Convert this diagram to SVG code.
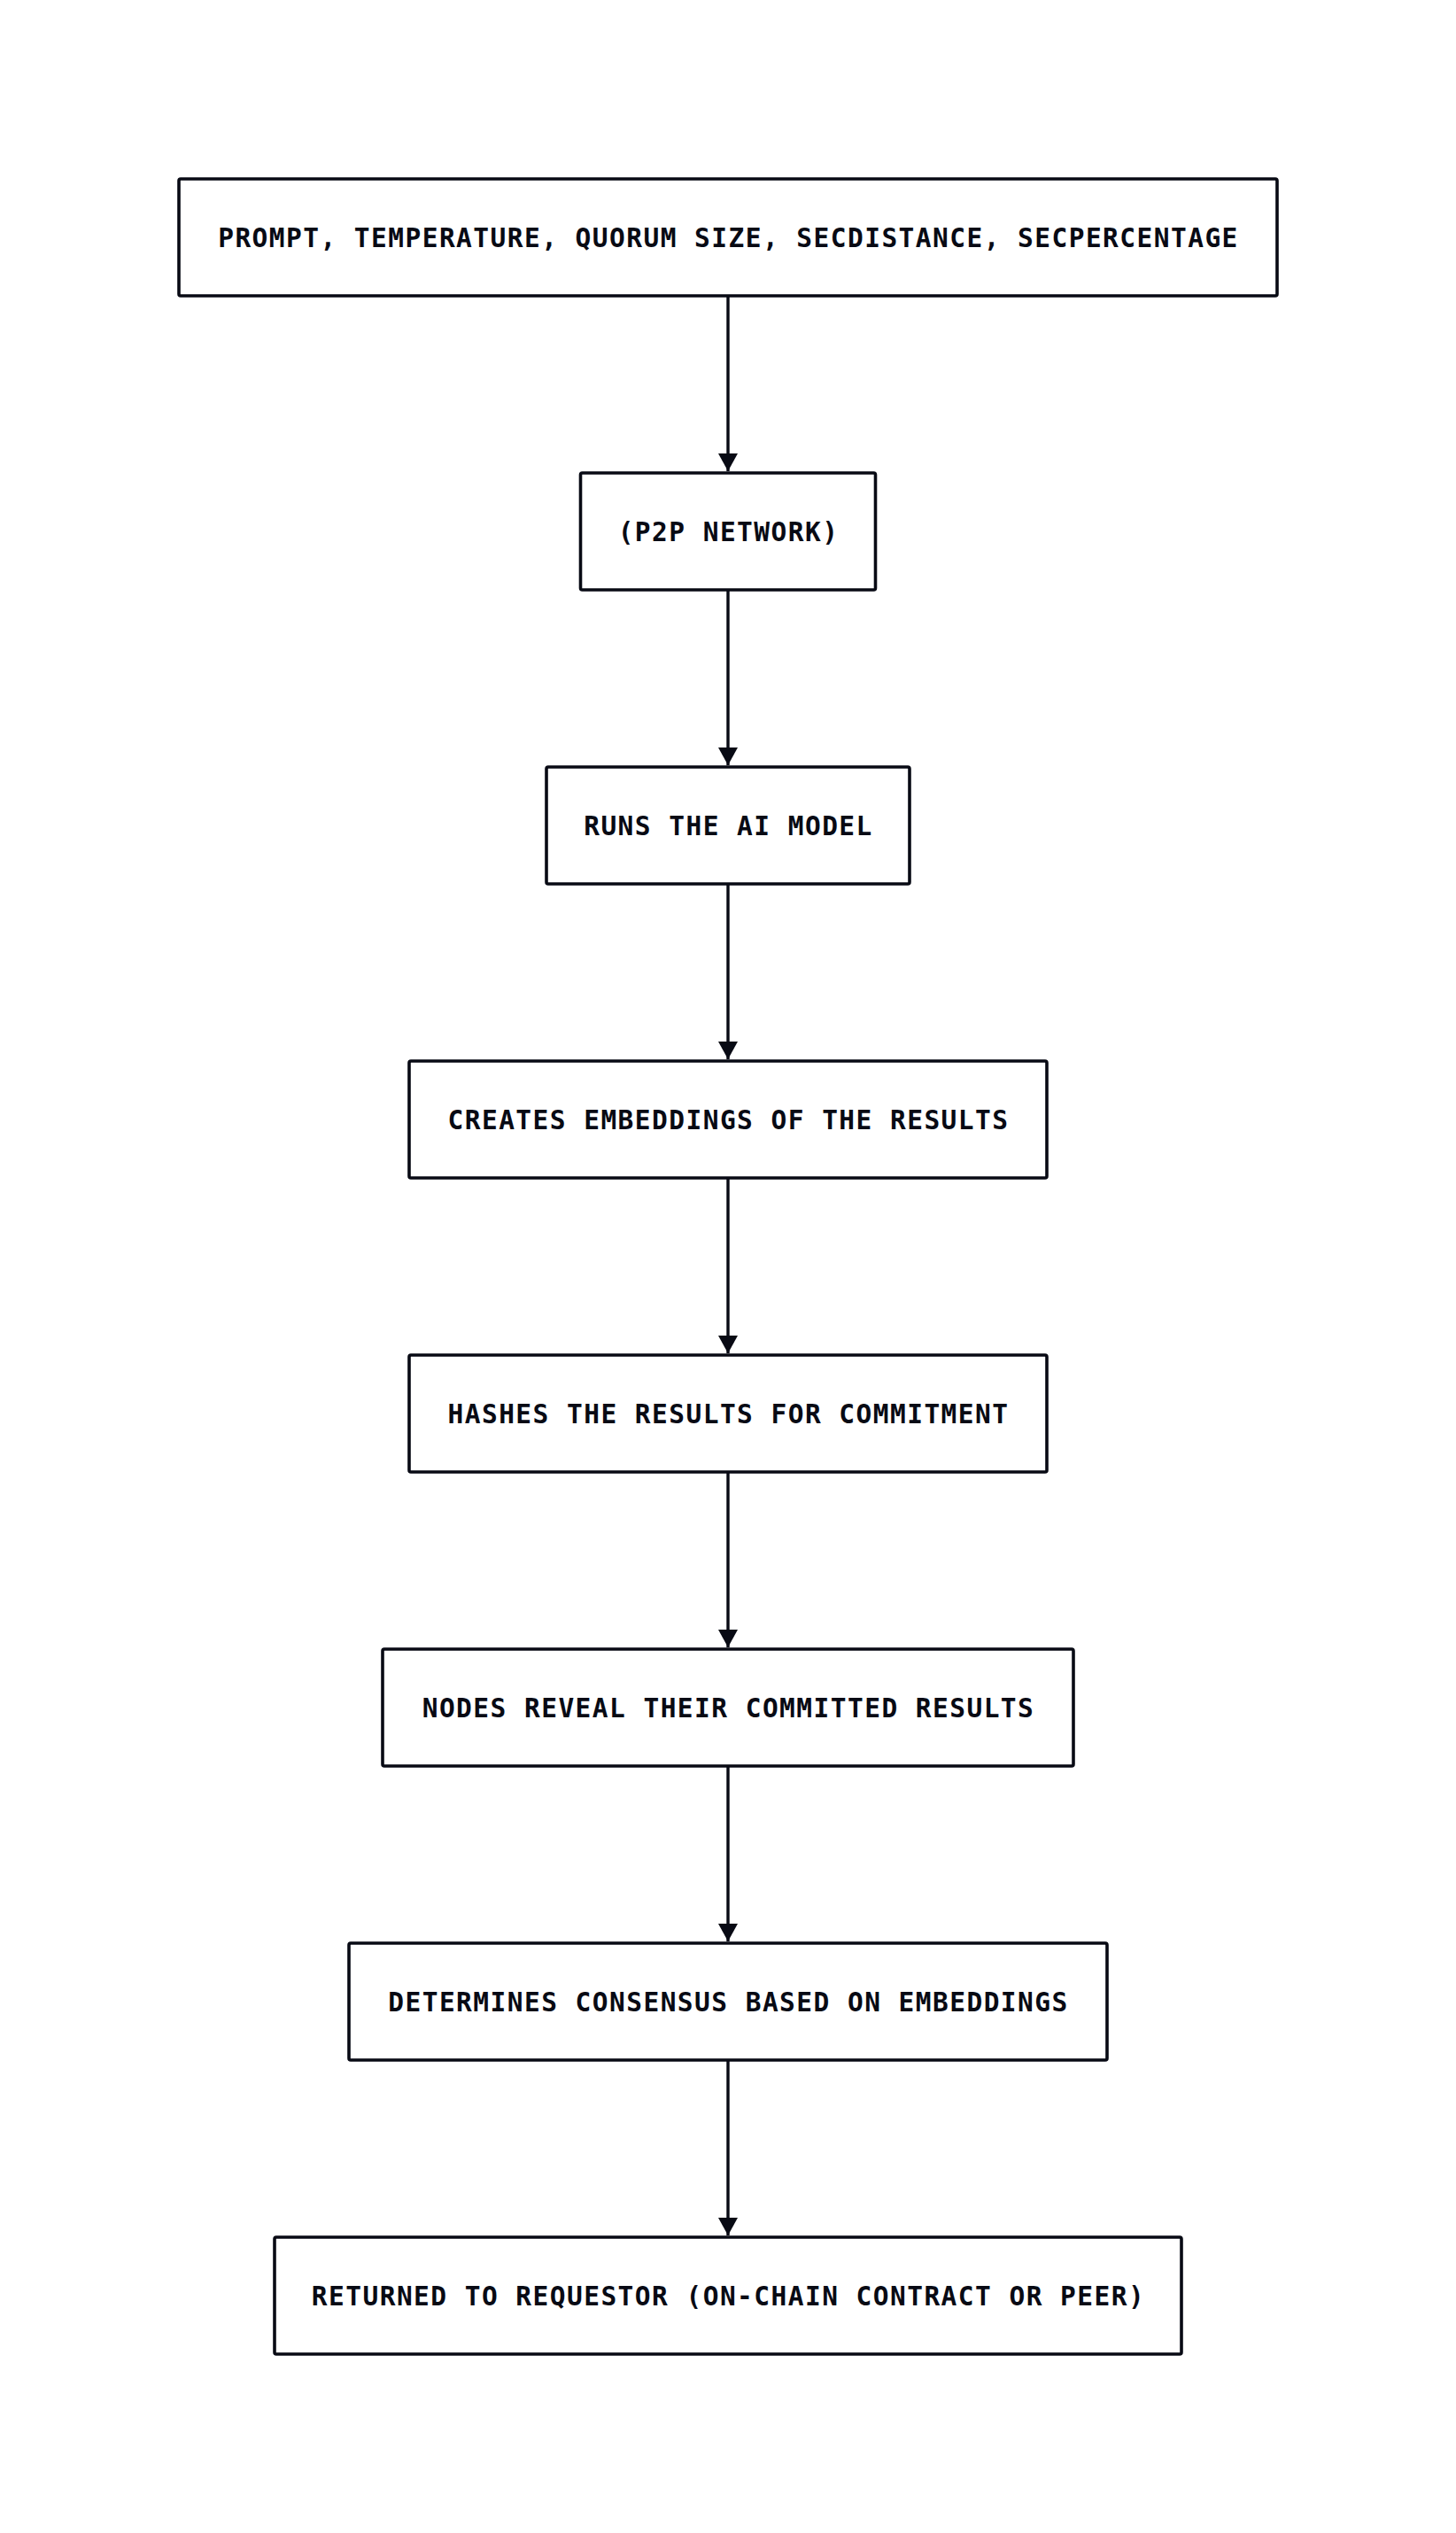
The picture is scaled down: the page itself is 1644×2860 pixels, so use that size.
<svg xmlns="http://www.w3.org/2000/svg" width="1644" height="2860" viewBox="0 0 1644 2860">
<defs>
<style>
.box{fill:#ffffff;stroke:#080a14;stroke-width:3.6}
.lbl{font-family:"DejaVu Sans Mono","Liberation Mono",monospace;font-weight:bold;font-size:29.5px;letter-spacing:1.45px;fill:#080a14;text-anchor:middle}
.edge{stroke:#080a14;stroke-width:3.4;fill:none}
</style>
<marker id="ah" markerUnits="userSpaceOnUse" markerWidth="24" markerHeight="24" refX="20" refY="12" orient="auto">
<path d="M0,1 L20,12 L0,23 Z" fill="#080a14"/>
</marker>
</defs>
<rect width="1644" height="2860" fill="#ffffff"/>
<g id="connectors">
<line class="edge" x1="822" y1="334" x2="822" y2="532" marker-end="url(#ah)"/>
<line class="edge" x1="822" y1="666" x2="822" y2="864" marker-end="url(#ah)"/>
<line class="edge" x1="822" y1="998" x2="822" y2="1196" marker-end="url(#ah)"/>
<line class="edge" x1="822" y1="1330" x2="822" y2="1528" marker-end="url(#ah)"/>
<line class="edge" x1="822" y1="1662" x2="822" y2="1860" marker-end="url(#ah)"/>
<line class="edge" x1="822" y1="1994" x2="822" y2="2192" marker-end="url(#ah)"/>
<line class="edge" x1="822" y1="2326" x2="822" y2="2524" marker-end="url(#ah)"/>
</g>
<g id="n1"><rect class="box" x="202" y="202" width="1240" height="132" rx="2"/><text class="lbl" x="822.5" y="279">PROMPT, TEMPERATURE, QUORUM SIZE, SECDISTANCE, SECPERCENTAGE</text></g>
<g id="n2"><rect class="box" x="655.5" y="534" width="333" height="132" rx="2"/><text class="lbl" x="822.5" y="611">(P2P NETWORK)</text></g>
<g id="n3"><rect class="box" x="617" y="866" width="410" height="132" rx="2"/><text class="lbl" x="822.5" y="943">RUNS THE AI MODEL</text></g>
<g id="n4"><rect class="box" x="462" y="1198" width="720" height="132" rx="2"/><text class="lbl" x="822.5" y="1275">CREATES EMBEDDINGS OF THE RESULTS</text></g>
<g id="n5"><rect class="box" x="462" y="1530" width="720" height="132" rx="2"/><text class="lbl" x="822.5" y="1607">HASHES THE RESULTS FOR COMMITMENT</text></g>
<g id="n6"><rect class="box" x="432" y="1862" width="780" height="132" rx="2"/><text class="lbl" x="822.5" y="1939">NODES REVEAL THEIR COMMITTED RESULTS</text></g>
<g id="n7"><rect class="box" x="394" y="2194" width="856" height="132" rx="2"/><text class="lbl" x="822.5" y="2271">DETERMINES CONSENSUS BASED ON EMBEDDINGS</text></g>
<g id="n8"><rect class="box" x="310" y="2526" width="1024" height="132" rx="2"/><text class="lbl" x="822.5" y="2603">RETURNED TO REQUESTOR (ON-CHAIN CONTRACT OR PEER)</text></g>
</svg>
